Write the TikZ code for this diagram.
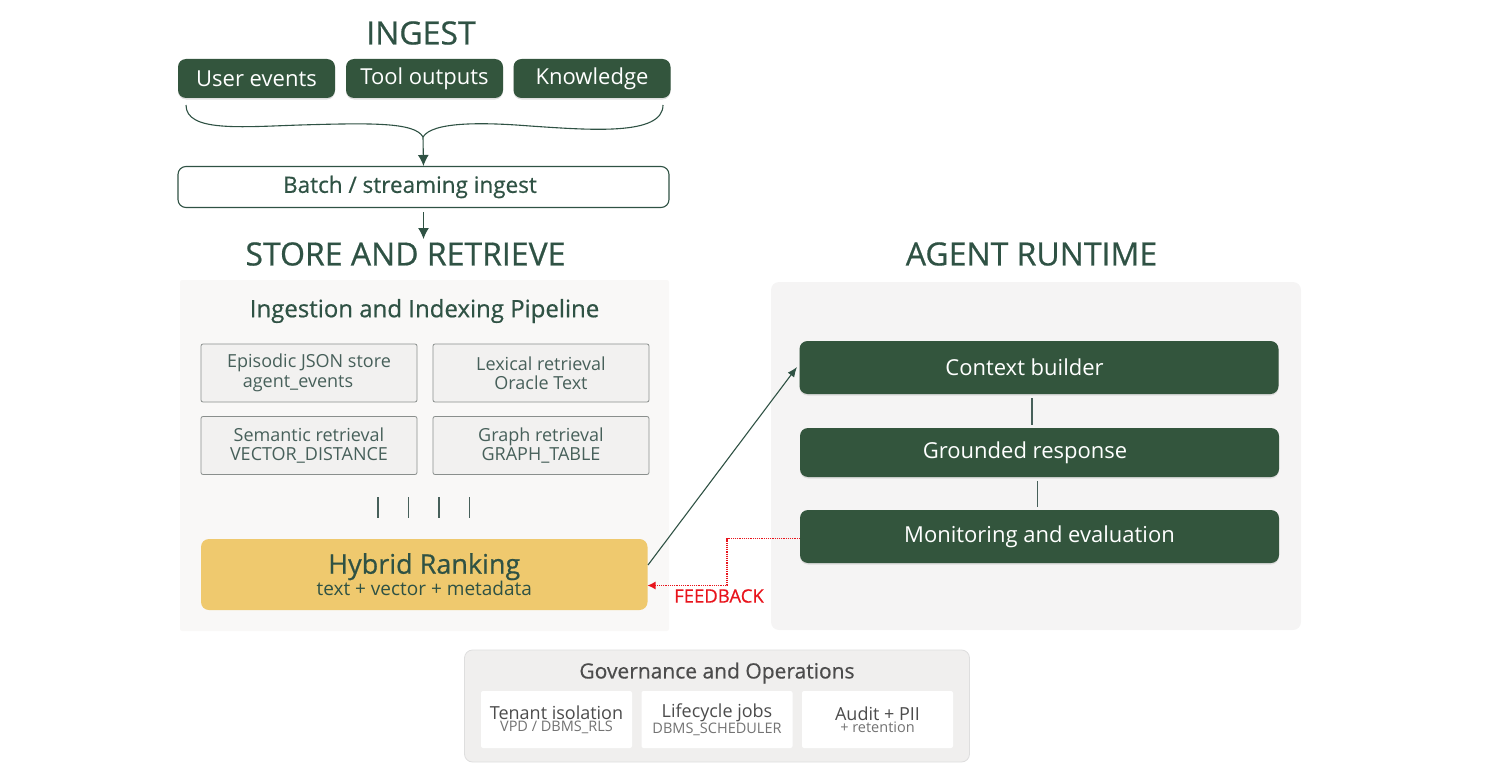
\documentclass[tikz,border=0pt]{standalone}
\usepackage{fontspec}
\setmainfont{Open Sans}
\newfontfamily\medfont[FakeBold=0.6]{Open Sans}
\usetikzlibrary{arrows.meta,shadows}
\definecolor{ogreen}{HTML}{33553D}
\definecolor{tgreen}{HTML}{2F5244}
\definecolor{sgreen}{HTML}{47605A}
\definecolor{oyellow}{HTML}{EFC96E}
\definecolor{panelA}{HTML}{F9F8F7}
\definecolor{panelB}{HTML}{F5F4F4}
\definecolor{panelC}{HTML}{F0EFEE}
\definecolor{cellf}{HTML}{F2F1F0}
\definecolor{celld}{HTML}{8A8F8D}
\definecolor{ored}{HTML}{E8141C}
\newcommand{\fs}[2]{\fontsize{#1}{#2}\selectfont}
\tikzset{
  box/.style={rounded corners=#1, inner sep=0pt, align=center},
  box/.default=8pt,
  title/.style={text=tgreen, inner sep=0pt, font=\medfont\fs{32}{36}},
  srcbox/.style={box, fill=ogreen, text=white, minimum width=157pt, minimum height=39pt,
    font=\fs{22}{26}, drop shadow={shadow xshift=0pt, shadow yshift=-1.5pt, opacity=.25}},
  runbox/.style={box, fill=ogreen, text=white, minimum width=479pt,
    font=\fs{22}{26}, drop shadow={shadow xshift=0pt, shadow yshift=-1.5pt, opacity=.2}},
  cell/.style={box=2pt, draw=celld, line width=.8pt, fill=cellf, text=sgreen,
    minimum width=216pt, minimum height=58pt, font=\fs{18}{19.5}},
  govcell/.style={box=2pt, fill=white, text=black!70, minimum width=151pt, minimum height=57pt},
  panel/.style={box, minimum height=#1},
  link/.style={draw=tgreen, line width=1.1pt},
  tick/.style={draw=sgreen, line width=1.1pt},
  fback/.style={draw=ored, line width=1.2pt, densely dotted}
}
\newcommand{\govtext}[2]{{\fs{18}{16}#1}\\{\color{black!55}\fs{14.5}{16}#2}}
\begin{document}
\begin{tikzpicture}[x=1pt, y=-1pt]
   \useasboundingbox (0,0) rectangle (1500,784);
   % ingest
   \node[title] (ingesttitle) at (421,33) {INGEST};
   \node[srcbox] (user) at (256.5,78.5) {User events};
   \node[srcbox] (tool) at (424.5,78.5) {Tool outputs};
   \node[srcbox] (know) at (592,78.5) {Knowledge};
   \coordinate (bl) at (186,105);
   \coordinate (br) at (663,105);
   \coordinate (bm) at (423,137);
   \draw[link] (bl) .. controls (186,132) and (240,127) .. (300,125) .. controls (370,123) and (415,122) .. (bm);
   \draw[link] (br) .. controls (663,136) and (590,130) .. (530,126) .. controls (480,122) and (432,122) .. (bm);
   \node[box, draw=tgreen, line width=1.1pt, text=tgreen, minimum width=491pt, minimum height=41pt,
      font=\medfont\fs{22.5}{26}] (batch) at (423.5,187) {\hspace*{-27pt}Batch / streaming ingest};
   \draw[link, -{Latex[length=11pt,width=11pt]}] (bm) -- (batch.north);
   \node[title] (storetitle) at (405.5,254) {STORE AND RETRIEVE};
   \coordinate (s0) at (423.5,212);
   \coordinate (s1) at (423.5,239);
   \draw[link, -{Latex[length=11pt,width=11pt]}] (s0) -- (s1);
   % store and retrieve
   \node[box=2pt, fill=panelA, minimum width=489pt, minimum height=351pt] (storepanel) at (424.5,455.5) {};
   \node[text=tgreen, inner sep=0pt, font=\medfont\fs{24}{28}] (pipe) at (424.5,311) {Ingestion and Indexing Pipeline};
   \node[cell] (epi) at (309,373) {Episodic JSON store\\agent\_events\hspace*{22pt}};
   \node[cell] (lex) at (541,373) {Lexical retrieval\\Oracle Text};
   \node[cell] (sem) at (309,445.5) {Semantic retrieval\\VECTOR\_DISTANCE};
   \node[cell] (graph) at (541,445.5) {Graph retrieval\\GRAPH\_TABLE};
   \foreach \i/\tx in {1/378,2/408.5,3/439,4/469.5} {
     \coordinate (ta\i) at (\tx,497);
     \coordinate (tb\i) at (\tx,518);
     \draw[tick] (ta\i) -- (tb\i);
   }
   \node[box, fill=oyellow, minimum width=446.5pt, minimum height=71pt, text=tgreen] (hybrid) at (424.25,574.5)
      {{\medfont\fs{27}{21}Hybrid Ranking}\\{\fs{19}{21}text + vector + metadata}};
   % agent runtime
   \node[title] (agenttitle) at (1031.5,254) {AGENT RUNTIME};
   \node[box, fill=panelB, minimum width=530pt, minimum height=348pt] (runpanel) at (1036,456) {};
   \node[runbox, minimum height=53pt] (context) at (1039,367.5) {\hspace*{-29pt}Context builder};
   \node[runbox, minimum height=49pt] (ground) at (1039.5,452.5) {\hspace*{-29pt}Grounded response};
   \node[runbox, minimum height=53pt] (monitor) at (1039.5,536.5) {Monitoring and evaluation};
   \coordinate (c0) at (1032,398);
   \coordinate (c1) at (1032,425);
   \coordinate (g0) at (1037.5,481);
   \coordinate (g1) at (1037.5,507);
   \draw[tick] (c0) -- (c1);
   \draw[tick] (g0) -- (g1);
   \coordinate (hout) at (648,565);
   \coordinate (cin) at (797,367);
   \draw[link, -{Latex[length=10pt,width=8pt]}] (hout) -- (cin);
   % feedback
   \coordinate (hin) at (647.5,585.5);
   \coordinate (mout) at (800,538.5);
   \coordinate (fb) at (727,538.5);
   \draw[fback, -{Latex[length=8pt,width=8pt]}] (mout) -- (fb) -- (fb |- hin) -- (hin);
   \node[text=ored, inner sep=0pt, font=\medfont\fs{18.5}{22}] (feedback) at (719,596) {FEEDBACK};
   % governance
   \node[box=8pt, draw=black!13, line width=.8pt, fill=panelC, minimum width=505pt, minimum height=112pt] (gov) at (717,706) {};
   \node[text=black!70, inner sep=0pt, font=\medfont\fs{21}{25}] (govtitle) at (717,673) {Governance and Operations};
   \node[govcell] (tenant) at (556.5,719.5) {\govtext{Tenant isolation}{VPD / DBMS\_RLS}};
   \node[govcell] (life) at (717,719.5) {\govtext{Lifecycle jobs}{DBMS\_SCHEDULER}};
   \node[govcell] (audit) at (877.5,719.5) {\govtext{Audit + PII}{+ retention}};
\end{tikzpicture}
\end{document}
